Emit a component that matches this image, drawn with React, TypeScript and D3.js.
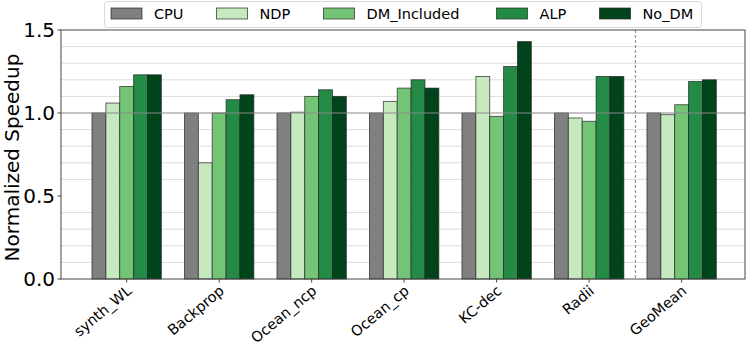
import { useEffect, useRef } from 'react';
import * as d3 from 'd3';

const categories = ['synth_WL', 'Backprop', 'Ocean_ncp', 'Ocean_cp', 'KC-dec', 'Radii', 'GeoMean'];
const seriesNames = ['CPU', 'NDP', 'DM_Included', 'ALP', 'No_DM'];
const seriesColors = ['#808080', '#c7e9c0', '#74c476', '#238b45', '#00441b'];

const cpu = [1.0, 1.0, 1.0, 1.0, 1.0, 1.0, 1.0];
const ndp = [1.06, 0.70, 1.005, 1.07, 1.22, 0.97, 0.99];
const dmIncluded = [1.16, 1.0, 1.10, 1.15, 0.98, 0.95, 1.05];
const alp = [1.23, 1.08, 1.14, 1.20, 1.28, 1.22, 1.19];
const noDm = [1.23, 1.11, 1.10, 1.15, 1.43, 1.22, 1.20];

const yTicks = [0, 0.5, 1.0, 1.5];
const yGrid = [0.1, 0.2, 0.3, 0.4, 0.6, 0.7, 0.8, 0.9, 1.1, 1.2, 1.3, 1.4];

export default function App() {
  const ref = useRef<SVGSVGElement>(null);

  useEffect(() => {
    const svg = d3.select(ref.current);
    svg.selectAll('*').remove();

    const W = 747, H = 345;
    const left = 61, right = 745, top = 30, bottom = 279;
    const font = '"DejaVu Sans", sans-serif';
    const series = [cpu, ndp, dmIncluded, alp, noDm];

    // x in "group index" units, like matplotlib's xlim
    const x = d3.scaleLinear().domain([-0.71, 6.685]).range([left, right]);
    const y = d3.scaleLinear().domain([0, 1.5]).range([bottom, top]);
    const barW = 0.15;

    svg.append('rect').attr('width', W).attr('height', H).attr('fill', 'white');

    // grid
    svg.append('g')
      .selectAll('line')
      .data(yGrid)
      .enter()
      .append('line')
      .attr('x1', left).attr('x2', right)
      .attr('y1', d => y(d)).attr('y2', d => y(d))
      .attr('stroke', '#dcdcdc')
      .attr('stroke-width', 1);

    // bars
    series.forEach((vals, si) => {
      svg.append('g')
        .selectAll('rect')
        .data(vals)
        .enter()
        .append('rect')
        .attr('x', (d, i) => x(i + (si - 2.5) * barW))
        .attr('width', x(barW) - x(0))
        .attr('y', d => y(d))
        .attr('height', d => bottom - y(d))
        .attr('fill', seriesColors[si])
        .attr('stroke', '#222')
        .attr('stroke-opacity', 0.75)
        .attr('stroke-width', 0.9);
    });

    // reference line at 1.0
    svg.append('line')
      .attr('x1', left).attr('x2', right)
      .attr('y1', y(1)).attr('y2', y(1))
      .attr('stroke', '#8a8a8a')
      .attr('stroke-width', 1.2);

    // separator before GeoMean
    svg.append('line')
      .attr('x1', x(5.5)).attr('x2', x(5.5))
      .attr('y1', top).attr('y2', bottom)
      .attr('stroke', '#777')
      .attr('stroke-width', 0.9)
      .attr('stroke-dasharray', '3,2');

    // frame
    svg.append('rect')
      .attr('x', left).attr('y', top)
      .attr('width', right - left).attr('height', bottom - top)
      .attr('fill', 'none')
      .attr('stroke', '#444')
      .attr('stroke-width', 1);

    // y axis
    const yAxis = svg.append('g');
    yTicks.forEach(t => {
      yAxis.append('line')
        .attr('x1', left - 3.5).attr('x2', left)
        .attr('y1', y(t)).attr('y2', y(t))
        .attr('stroke', '#444');
      yAxis.append('text')
        .attr('x', left - 6)
        .attr('y', y(t))
        .attr('dy', '0.36em')
        .attr('text-anchor', 'end')
        .style('font-family', font)
        .style('font-size', '20px')
        .attr('fill', 'black')
        .text(t.toFixed(1));
    });

    svg.append('text')
      .attr('transform', `translate(19,${(top + bottom) / 2 + 3}) rotate(-90)`)
      .attr('text-anchor', 'middle')
      .style('font-family', font)
      .style('font-size', '20px')
      .attr('fill', 'black')
      .text('Normalized Speedup');

    // x axis ticks + rotated labels
    const xAxis = svg.append('g');
    categories.forEach((c, i) => {
      xAxis.append('line')
        .attr('x1', x(i)).attr('x2', x(i))
        .attr('y1', bottom).attr('y2', bottom + 3.5)
        .attr('stroke', '#444');
      xAxis.append('text')
        .attr('transform', `translate(${x(i) - 1},${bottom + 5}) rotate(-40)`)
        .attr('text-anchor', 'end')
        .attr('dy', '0.75em')
        .style('font-family', font)
        .style('font-size', '14.5px')
        .attr('fill', 'black')
        .text(c);
    });

    // legend
    const legend = svg.append('g');
    legend.append('rect')
      .attr('x', 104.5).attr('y', 1.5)
      .attr('width', 597).attr('height', 26)
      .attr('rx', 3)
      .attr('fill', 'white')
      .attr('fill-opacity', 0.85)
      .attr('stroke', '#d8d8d8');
    const legendX = [111, 216.5, 323.5, 496.5, 599.5];
    seriesNames.forEach((name, si) => {
      legend.append('rect')
        .attr('x', legendX[si]).attr('y', 8)
        .attr('width', 31).attr('height', 11)
        .attr('fill', seriesColors[si])
        .attr('stroke', '#222')
        .attr('stroke-opacity', 0.75)
        .attr('stroke-width', 0.9);
      legend.append('text')
        .attr('x', legendX[si] + 43)
        .attr('y', 13.5)
        .attr('dy', '0.36em')
        .style('font-family', font)
        .style('font-size', '14.5px')
        .attr('fill', 'black')
        .text(name);
    });
  }, []);

  return (
    <svg
      ref={ref}
      width={747}
      height={345}
      style={{ position: 'absolute', left: 0, top: 0, display: 'block' }}
    />
  );
}
